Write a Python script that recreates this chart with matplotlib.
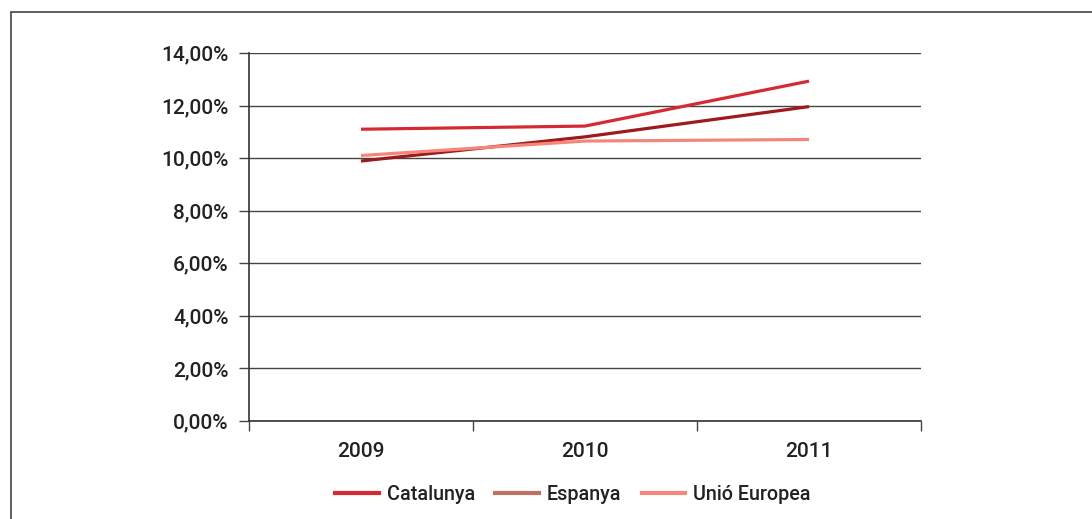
import matplotlib.pyplot as plt
from matplotlib.lines import Line2D
from matplotlib.patches import Rectangle
from matplotlib.ticker import FuncFormatter

plt.rcParams['font.family'] = ['Roboto', 'DejaVu Sans']
plt.rcParams['font.weight'] = 'medium'

# data (percent)
years = ['2009', '2010', '2011']
catalunya = [11.1, 11.22, 12.93]
espanya = [9.89, 10.81, 11.96]
unio_europea = [10.1, 10.65, 10.71]

# line colours and legend swatch colours (Espanya legend swatch differs from its line)
line_colors = ['#d52a32', '#9e1a1f', '#f4877a']
legend_colors = ['#d52a32', '#c07060', '#f4877a']
names = ['Catalunya', 'Espanya', 'Unió Europea']

fig = plt.figure(figsize=(10.92, 5.19), dpi=100)
ax = fig.add_axes([249/1092, 1 - 421/519, 672/1092, 368/519])

x = list(range(len(years)))
for vals, c in zip([catalunya, espanya, unio_europea], line_colors):
    ax.plot(x, vals, color=c, lw=2.3, solid_capstyle='butt', zorder=3)

ax.set_xlim(-0.5, 2.5)
ax.set_ylim(0, 14)
ax.set_yticks(range(0, 15, 2))
ax.yaxis.set_major_formatter(FuncFormatter(lambda v, p: f'{v:.2f}%'.replace('.', ',')))
ax.yaxis.grid(True, color='#444444', lw=1)
ax.set_axisbelow(True)

ax.set_xticks([-0.5, 0.5, 1.5, 2.5])
ax.set_xticklabels([])
ax.set_xticks(x, minor=True)
ax.set_xticklabels(years, minor=True)
ax.tick_params(axis='x', which='major', length=7.5, width=1, color='#444444')
ax.tick_params(axis='x', which='minor', length=0, pad=15, labelsize=15, labelcolor='#222222')
ax.tick_params(axis='y', length=7.5, width=1, color='#444444', pad=7, labelsize=15, labelcolor='#222222')

for s in ['top', 'right']:
    ax.spines[s].set_visible(False)
for s in ['left', 'bottom']:
    ax.spines[s].set_color('#333333')
    ax.spines[s].set_linewidth(1.2)

handles = [Line2D([], [], color=c, lw=3) for c in legend_colors]
fig.legend(handles, names, loc='center', bbox_to_anchor=(573/1092, 1 - 494/519),
           ncol=3, frameon=False, fontsize=14.2, handlelength=2.2, handletextpad=0.4,
           columnspacing=1.05, labelcolor='#222222')

# outer frame, open to the right and bottom
fig.patches.append(Rectangle((11/1092, -0.5), 1.5, 1.5 - 12/519, transform=fig.transFigure,
                             fill=False, edgecolor='#444444', lw=1.2))

fig.savefig('out.png', dpi=100)
